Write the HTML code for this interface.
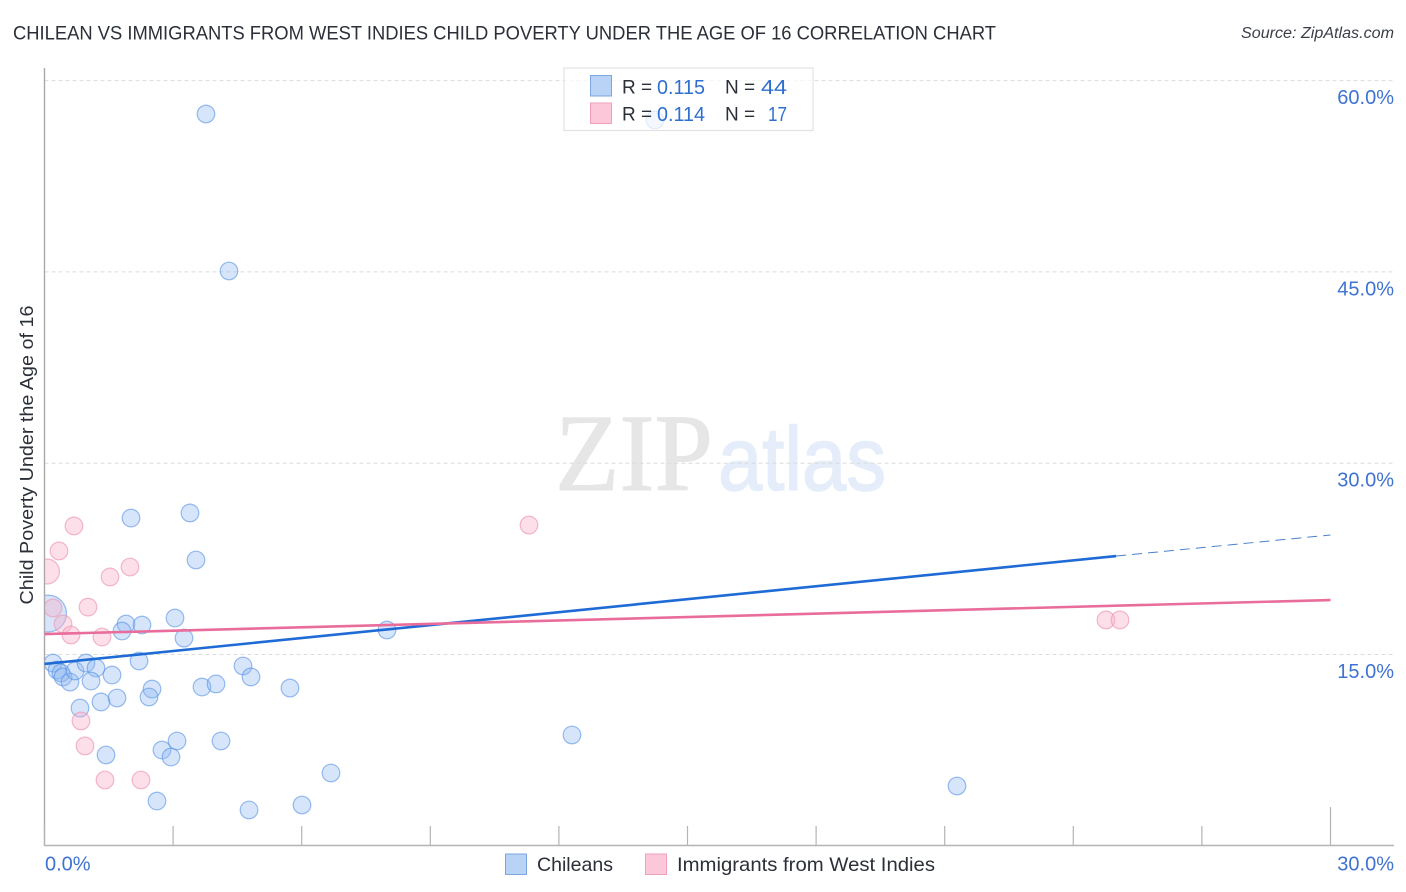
<!DOCTYPE html>
<html>
<head>
<meta charset="utf-8">
<title>Chilean vs Immigrants from West Indies Child Poverty Correlation Chart</title>
<style>
html,body{margin:0;padding:0;background:#fff;}
svg{display:block;font-family:"Liberation Sans",sans-serif;}
</style>
</head>
<body>
<svg id="chart" xmlns="http://www.w3.org/2000/svg" width="1406" height="892" viewBox="0 0 1406 892">
  <defs><clipPath id="plot-clip"><rect x="45" y="60" width="1349" height="786"/></clipPath></defs>
  <text x="13" y="39.5" font-size="19.5" fill="#2b2f38" textLength="983" lengthAdjust="spacingAndGlyphs">CHILEAN VS IMMIGRANTS FROM WEST INDIES CHILD POVERTY UNDER THE AGE OF 16 CORRELATION CHART</text>
  <text x="1241" y="38" font-size="15.5" font-style="italic" fill="#3a3f48" textLength="153" lengthAdjust="spacingAndGlyphs">Source: ZipAtlas.com</text>
  <g>
    <text x="555" y="490" font-family="'Liberation Serif',serif" font-size="110" fill="#e6e6e6" stroke="#e6e6e6" stroke-width="1" textLength="158" lengthAdjust="spacingAndGlyphs">ZIP</text>
    <text x="718" y="490" font-size="90" fill="#e4edf9" stroke="#e4edf9" stroke-width="1.5" textLength="168" lengthAdjust="spacingAndGlyphs">atlas</text>
  </g>
  <g id="grid"></g>
  <g id="axes"></g>
  <text transform="translate(33,455) rotate(-90)" font-size="18.5" fill="#2b2f38" text-anchor="middle" textLength="299" lengthAdjust="spacingAndGlyphs">Child Poverty Under the Age of 16</text>
  <g id="points" clip-path="url(#plot-clip)"></g>
  <g id="lines"></g>
  <g>
    <rect x="564" y="68" width="249" height="62.5" fill="#fff" fill-opacity="0.72" stroke="#e2e2e2" stroke-width="1.2"/>
    <rect x="590.5" y="75.5" width="21" height="20.5" fill="#b9d3f6" stroke="#7da6e0" stroke-width="1"/>
    <rect x="590.5" y="103" width="21" height="20.5" fill="#fcc8d9" stroke="#f0a0bb" stroke-width="1"/>
    <text x="622" y="93.5" font-size="19" fill="#2b2f38">R =</text>
    <text x="657" y="94" font-size="20.5" fill="#2f6fd0" textLength="48" lengthAdjust="spacingAndGlyphs">0.115</text>
    <text x="725" y="93.5" font-size="19" fill="#2b2f38">N =</text>
    <text x="761" y="94" font-size="20.5" fill="#2f6fd0" textLength="26" lengthAdjust="spacingAndGlyphs">44</text>
    <text x="622" y="120.5" font-size="19" fill="#2b2f38">R =</text>
    <text x="657" y="121" font-size="20.5" fill="#2f6fd0" textLength="48" lengthAdjust="spacingAndGlyphs">0.114</text>
    <text x="725" y="120.5" font-size="19" fill="#2b2f38">N =</text>
    <text x="768" y="121" font-size="20.5" fill="#2f6fd0" textLength="19" lengthAdjust="spacingAndGlyphs">17</text>
  </g>
  <g>
    <rect x="505.5" y="854" width="21" height="20.5" fill="#b9d3f6" stroke="#7da6e0" stroke-width="1"/>
    <text x="537" y="871" font-size="19.5" fill="#2b2f38" textLength="76" lengthAdjust="spacingAndGlyphs">Chileans</text>
    <rect x="645.5" y="854" width="21" height="20.5" fill="#fcc8d9" stroke="#f0a0bb" stroke-width="1"/>
    <text x="677" y="871" font-size="19.5" fill="#2b2f38" textLength="258" lengthAdjust="spacingAndGlyphs">Immigrants from West Indies</text>
  </g>
</svg>
<script>
const yTickValues = [15, 30, 45, 60];
const yTickLabels = ['15.0%', '30.0%', '45.0%', '60.0%'];
const xTickValues = [0, 3, 6, 9, 12, 15, 18, 21, 24, 27, 30];
const xEndLabels = ['0.0%', '30.0%'];

const chileanX = [3.767,4.304,14.24,2.018,3.394,3.534,3.044,1.901,2.274,1.808,3.254,0.082,0.198,0.292,0.385,0.432,0.595,0.712,0.968,1.201,1.085,1.575,2.205,2.508,2.438,1.691,1.318,0.828,4.631,4.817,3.674,4.001,5.727,4.117,3.091,2.741,2.951,1.435,6.683,6.007,4.771,2.624,7.99,12.305,21.287];
const chileanY = [57.38,45.07,56.91,25.7,26.1,22.41,17.86,17.39,17.31,16.84,16.29,18.21,14.33,13.78,13.55,13.24,12.84,13.71,14.33,13.94,12.92,13.39,14.49,12.29,11.67,11.59,11.28,10.8,14.1,13.24,12.45,12.69,12.37,8.22,8.22,7.51,6.96,7.12,5.71,3.2,2.81,3.51,16.92,8.69,4.69];
const chileanWeight = [1,1,1,1,1,1,1,1,1,1,1,4.4,1,1,1,1,1,1,1,1,1,1,1,1,1,1,1,1,1,1,1,1,1,1,1,1,1,1,1,1,1,1,1,1,1];

const immigrantX = [0.688,0.338,0.058,1.995,1.528,1.015,0.198,0.432,0.618,1.341,0.851,0.945,1.411,2.251,11.302,24.763,25.089];
const immigrantY = [25.08,23.12,21.51,21.86,21.08,18.72,18.65,17.39,16.53,16.37,9.79,7.83,5.16,5.16,25.15,17.71,17.71];
const immigrantWeight = [1,1,2,1,1,1,1,1,1,1,1,1,1,1,1,1,1];

const chileanTrendX = [0, 25];
const chileanTrendY = [14.26, 22.72];
const chileanExtensionX = [25, 30];
const chileanExtensionY = [22.72, 24.37];
const immigrantTrendX = [0, 30];
const immigrantTrendY = [16.6, 19.27];

const NS = 'http://www.w3.org/2000/svg';
const xScale = function (v) { return 44.5 + v * (1286 / 30); };
const yScale = function (v) { return 654.5 - (v - 15) * (191.3 / 15); };

function make(tag, attrs, parent) {
  const el = document.createElementNS(NS, tag);
  Object.keys(attrs).forEach(function (k) { el.setAttribute(k, attrs[k]); });
  parent.appendChild(el);
  return el;
}

const gridG = document.getElementById('grid');
const axesG = document.getElementById('axes');
const pointsG = document.getElementById('points');
const linesG = document.getElementById('lines');

yTickValues.forEach(function (v, i) {
  const line = make('line', {x1: 44.5, x2: 1394, y1: yScale(v), y2: yScale(v), stroke: '#dcdcdc', 'stroke-width': 1, 'stroke-dasharray': '4 3'}, gridG);
  
  
  const label = make('text', {x: 1394, y: yScale(v) + 23.5, 'font-size': 20, fill: '#3f73d2', 'text-anchor': 'end'}, axesG);
  
  
  label.textContent = yTickLabels[i];
});

const yAxis = make('line', {x1: 44.5, x2: 44.5, y1: 68, y2: 846, stroke: '#a8a8a8', 'stroke-width': 1.4}, axesG);


const xAxis = make('line', {x1: 44, x2: 1394, y1: 845.5, y2: 845.5, stroke: '#b4b4b4', 'stroke-width': 1.4}, axesG);



xTickValues.forEach(function (v, i) {
  const top = i === xTickValues.length - 1 ? 807 : 826;
  const tick = make('line', {x1: xScale(v), x2: xScale(v), y1: top, y2: 846, stroke: '#b4b4b4', 'stroke-width': 1.2}, axesG);
  
  
});

const xLabelLeft = make('text', {x: 45, y: 870.5, 'font-size': 20, fill: '#3f73d2'}, axesG);


xLabelLeft.textContent = xEndLabels[0];
const xLabelRight = make('text', {x: 1394, y: 870.5, 'font-size': 20, fill: '#3f73d2', 'text-anchor': 'end'}, axesG);


xLabelRight.textContent = xEndLabels[1];

chileanX.forEach(function (v, i) {
  const c = make('circle', {cx: xScale(v), cy: yScale(chileanY[i]), r: 8.8 * Math.sqrt(chileanWeight[i]), fill: '#8db8f0', 'fill-opacity': 0.36, stroke: '#5a94e4', 'stroke-opacity': 0.62, 'stroke-width': 1.2}, pointsG);
  
  
});
immigrantX.forEach(function (v, i) {
  const c = make('circle', {cx: xScale(v), cy: yScale(immigrantY[i]), r: 8.8 * Math.sqrt(immigrantWeight[i]), fill: '#f9b3cb', 'fill-opacity': 0.42, stroke: '#ee9ab8', 'stroke-opacity': 0.7, 'stroke-width': 1.2}, pointsG);
  
  
});

const chileanLine = make('line', {x1: xScale(chileanTrendX[0]), y1: yScale(chileanTrendY[0]), x2: xScale(chileanTrendX[1]), y2: yScale(chileanTrendY[1]), stroke: '#1f6bd6', 'stroke-width': 2.6}, linesG);


const chileanDash = make('line', {x1: xScale(chileanExtensionX[0]), y1: yScale(chileanExtensionY[0]), x2: xScale(chileanExtensionX[1]), y2: yScale(chileanExtensionY[1]), stroke: '#4a80cc', 'stroke-width': 1, 'stroke-dasharray': '10 6'}, linesG);


const immigrantLine = make('line', {x1: xScale(immigrantTrendX[0]), y1: yScale(immigrantTrendY[0]), x2: xScale(immigrantTrendX[1]), y2: yScale(immigrantTrendY[1]), stroke: '#e96d9b', 'stroke-width': 2.6}, linesG);


</script>
</body>
</html>
